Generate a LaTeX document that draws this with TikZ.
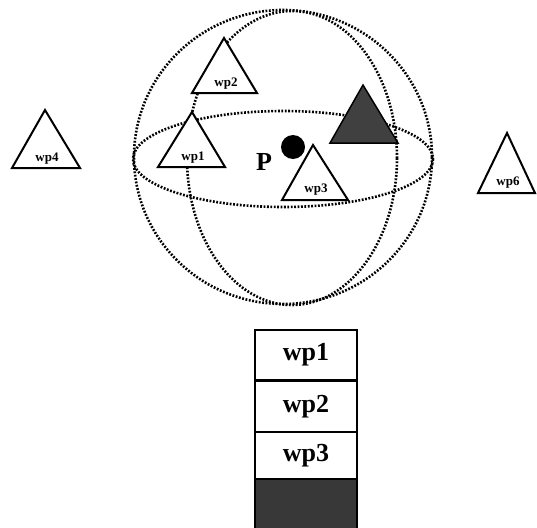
\documentclass[tikz,border=0pt]{standalone}
\usepackage{fontspec}
\setmainfont{Liberation Serif}
\begin{document}
\begin{tikzpicture}[x=1pt,y=-1pt,
  dotline/.style={line width=2.6pt,dash pattern=on 1.8pt off 1.6pt,black},
  tri/.style={line width=2pt,line join=miter,fill=white},
  darktri/.style={line width=1.5pt,fill=black!75},
  trilabel/.style={font=\bfseries\fontsize{13}{13}\selectfont,inner sep=0pt},
  cell/.style={draw,line width=1.2pt,minimum width=102pt,minimum height=50pt,inner sep=0pt,font=\bfseries\fontsize{26}{26}\selectfont}]
\useasboundingbox (0,0) rectangle (537,527);
% sphere
\draw[dotline] (283,157) ellipse[x radius=149,y radius=147];
\draw[dotline] (283,159) ellipse[x radius=150,y radius=48];
\draw[dotline] (292,158) ellipse[x radius=105,y radius=147];
% triangles inside sphere
\draw[tri] (224,38) -- (257,93) -- (192,93) -- cycle;
\node[trilabel] (wp2) at (226,84) {wp2};
\draw[tri] (192,112) -- (225,167) -- (158,167) -- cycle;
\node[trilabel] (wp1) at (193,158) {wp1};
\draw[darktri] (363,85) -- (398,143) -- (330,143) -- cycle;
\draw[tri] (313,145) -- (348,200) -- (282,200) -- cycle;
\node[trilabel] (wp3) at (316,190) {wp3};
% point P
\fill (293,147) circle[radius=12];
\node[font=\bfseries\fontsize{26}{26}\selectfont,inner sep=0pt] (P) at (264,162) {P};
% outside triangles
\draw[tri] (45,110) -- (80,168) -- (12,168) -- cycle;
\node[trilabel] (wp4) at (47,159) {wp4};
\draw[tri] (507,133) -- (535,193) -- (478,193) -- cycle;
\node[trilabel] (wp6) at (508,183) {wp6};
% table
\node[cell] (c1) at (306,355) {wp1};
\node[cell,anchor=north] (c2) at (c1.south) {wp2};
\node[cell,anchor=north,minimum height=46pt] (c3) at (c2.south) {wp3};
\node[cell,anchor=north,minimum height=49pt,fill=black!78] (c4) at (c3.south) {};
\end{tikzpicture}
\end{document}
